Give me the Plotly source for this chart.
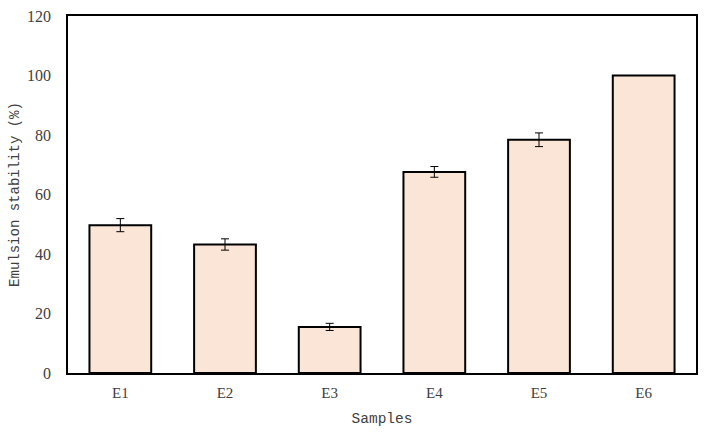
import plotly.graph_objects as go

samples = ["E1", "E2", "E3", "E4", "E5", "E6"]
stability = [49.7, 43.2, 15.5, 67.6, 78.4, 100.0]
errors = [2.2, 1.9, 1.2, 1.8, 2.3, 0.0]
y_ticks = [0, 20, 40, 60, 80, 100, 120]

fig = go.Figure()
fig.add_trace(go.Bar(
    x=samples, y=stability,
    width=0.59,
    marker=dict(color="#FBE5D6", line=dict(color="#000000", width=2)),
    error_y=dict(type="data", array=errors, color="#000000", thickness=1, width=4, visible=True),
    showlegend=False,
))

fig.update_layout(
    width=704, height=434,
    margin=dict(l=68, r=8, t=16, b=61),
    plot_bgcolor="white", paper_bgcolor="white",
)
fig.update_xaxes(
    automargin=False,
    showline=True, linecolor="#000000", linewidth=1.5, mirror=True,
    showgrid=False, ticks="",
    tickfont=dict(family="Liberation Serif", size=15, color="#404040"),
    ticklabelstandoff=5,
    title=dict(text="Samples", font=dict(family="Liberation Mono", size=14.5, color="#404040"), standoff=13),
)
fig.update_yaxes(
    automargin=False,
    range=[0, 120], tickvals=y_ticks,
    showline=True, linecolor="#000000", linewidth=1.5, mirror=True,
    showgrid=False, zeroline=False, ticks="",
    tickfont=dict(family="Liberation Serif", size=16, color="#404040"),
    ticklabelstandoff=12,
    title=dict(text="Emulsion stability (%)", font=dict(family="Liberation Mono", size=14, color="#404040"), standoff=4),
)

fig.write_html("out.html", config={"displayModeBar": False},
               post_script="document.body.style.margin='0';document.body.style.overflow='hidden';")
